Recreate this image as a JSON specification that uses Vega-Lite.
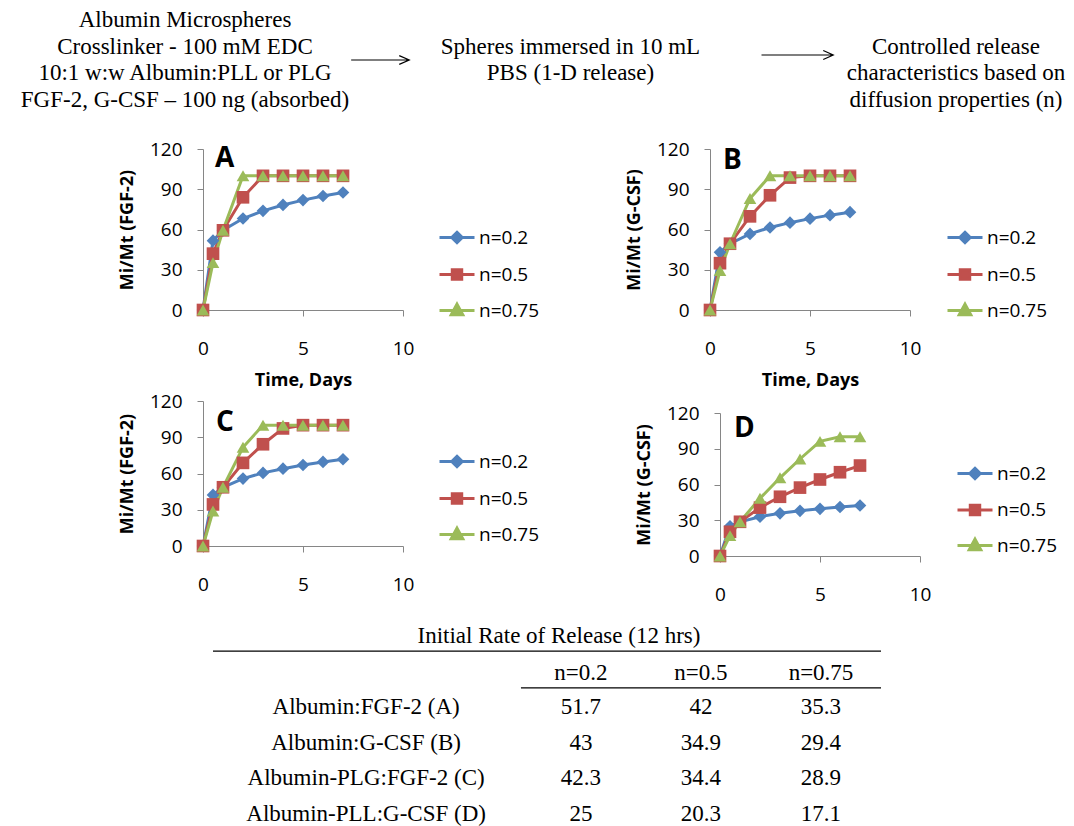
{
  "$schema": "https://vega.github.io/schema/vega-lite/v6.json",
  "padding": 0,
  "background": "white",
  "spacing": 0,
  "datasets": {
    "release": [
      {"panel":"A","series":"n=0.2","day":0,"value":0},{"panel":"A","series":"n=0.2","day":0.5,"value":51.7},{"panel":"A","series":"n=0.2","day":1,"value":59.4},{"panel":"A","series":"n=0.2","day":2,"value":68.2},{"panel":"A","series":"n=0.2","day":3,"value":73.9},{"panel":"A","series":"n=0.2","day":4,"value":78.3},{"panel":"A","series":"n=0.2","day":5,"value":81.9},{"panel":"A","series":"n=0.2","day":6,"value":85.0},{"panel":"A","series":"n=0.2","day":7,"value":87.6},
      {"panel":"A","series":"n=0.5","day":0,"value":0},{"panel":"A","series":"n=0.5","day":0.5,"value":42},{"panel":"A","series":"n=0.5","day":1,"value":59.4},{"panel":"A","series":"n=0.5","day":2,"value":84},{"panel":"A","series":"n=0.5","day":3,"value":100},{"panel":"A","series":"n=0.5","day":4,"value":100},{"panel":"A","series":"n=0.5","day":5,"value":100},{"panel":"A","series":"n=0.5","day":6,"value":100},{"panel":"A","series":"n=0.5","day":7,"value":100},
      {"panel":"A","series":"n=0.75","day":0,"value":0},{"panel":"A","series":"n=0.75","day":0.5,"value":35.3},{"panel":"A","series":"n=0.75","day":1,"value":59.4},{"panel":"A","series":"n=0.75","day":2,"value":100},{"panel":"A","series":"n=0.75","day":3,"value":100},{"panel":"A","series":"n=0.75","day":4,"value":100},{"panel":"A","series":"n=0.75","day":5,"value":100},{"panel":"A","series":"n=0.75","day":6,"value":100},{"panel":"A","series":"n=0.75","day":7,"value":100},
      {"panel":"B","series":"n=0.2","day":0,"value":0},{"panel":"B","series":"n=0.2","day":0.5,"value":43},{"panel":"B","series":"n=0.2","day":1,"value":49.4},{"panel":"B","series":"n=0.2","day":2,"value":56.7},{"panel":"B","series":"n=0.2","day":3,"value":61.5},{"panel":"B","series":"n=0.2","day":4,"value":65.1},{"panel":"B","series":"n=0.2","day":5,"value":68.1},{"panel":"B","series":"n=0.2","day":6,"value":70.7},{"panel":"B","series":"n=0.2","day":7,"value":72.9},
      {"panel":"B","series":"n=0.5","day":0,"value":0},{"panel":"B","series":"n=0.5","day":0.5,"value":34.9},{"panel":"B","series":"n=0.5","day":1,"value":49.4},{"panel":"B","series":"n=0.5","day":2,"value":69.8},{"panel":"B","series":"n=0.5","day":3,"value":85.5},{"panel":"B","series":"n=0.5","day":4,"value":98.7},{"panel":"B","series":"n=0.5","day":5,"value":100},{"panel":"B","series":"n=0.5","day":6,"value":100},{"panel":"B","series":"n=0.5","day":7,"value":100},
      {"panel":"B","series":"n=0.75","day":0,"value":0},{"panel":"B","series":"n=0.75","day":0.5,"value":29.4},{"panel":"B","series":"n=0.75","day":1,"value":49.4},{"panel":"B","series":"n=0.75","day":2,"value":83.1},{"panel":"B","series":"n=0.75","day":3,"value":100},{"panel":"B","series":"n=0.75","day":4,"value":100},{"panel":"B","series":"n=0.75","day":5,"value":100},{"panel":"B","series":"n=0.75","day":6,"value":100},{"panel":"B","series":"n=0.75","day":7,"value":100},
      {"panel":"C","series":"n=0.2","day":0,"value":0},{"panel":"C","series":"n=0.2","day":0.5,"value":42.3},{"panel":"C","series":"n=0.2","day":1,"value":48.6},{"panel":"C","series":"n=0.2","day":2,"value":55.8},{"panel":"C","series":"n=0.2","day":3,"value":60.5},{"panel":"C","series":"n=0.2","day":4,"value":64.0},{"panel":"C","series":"n=0.2","day":5,"value":67.0},{"panel":"C","series":"n=0.2","day":6,"value":69.6},{"panel":"C","series":"n=0.2","day":7,"value":71.8},
      {"panel":"C","series":"n=0.5","day":0,"value":0},{"panel":"C","series":"n=0.5","day":0.5,"value":34.4},{"panel":"C","series":"n=0.5","day":1,"value":48.6},{"panel":"C","series":"n=0.5","day":2,"value":68.8},{"panel":"C","series":"n=0.5","day":3,"value":84.2},{"panel":"C","series":"n=0.5","day":4,"value":97.3},{"panel":"C","series":"n=0.5","day":5,"value":100},{"panel":"C","series":"n=0.5","day":6,"value":100},{"panel":"C","series":"n=0.5","day":7,"value":100},
      {"panel":"C","series":"n=0.75","day":0,"value":0},{"panel":"C","series":"n=0.75","day":0.5,"value":28.9},{"panel":"C","series":"n=0.75","day":1,"value":48.6},{"panel":"C","series":"n=0.75","day":2,"value":81.7},{"panel":"C","series":"n=0.75","day":3,"value":100},{"panel":"C","series":"n=0.75","day":4,"value":100},{"panel":"C","series":"n=0.75","day":5,"value":100},{"panel":"C","series":"n=0.75","day":6,"value":100},{"panel":"C","series":"n=0.75","day":7,"value":100},
      {"panel":"D","series":"n=0.2","day":0,"value":0},{"panel":"D","series":"n=0.2","day":0.5,"value":25},{"panel":"D","series":"n=0.2","day":1,"value":28.7},{"panel":"D","series":"n=0.2","day":2,"value":33.0},{"panel":"D","series":"n=0.2","day":3,"value":35.8},{"panel":"D","series":"n=0.2","day":4,"value":37.9},{"panel":"D","series":"n=0.2","day":5,"value":39.6},{"panel":"D","series":"n=0.2","day":6,"value":41.1},{"panel":"D","series":"n=0.2","day":7,"value":42.4},
      {"panel":"D","series":"n=0.5","day":0,"value":0},{"panel":"D","series":"n=0.5","day":0.5,"value":20.3},{"panel":"D","series":"n=0.5","day":1,"value":28.7},{"panel":"D","series":"n=0.5","day":2,"value":40.6},{"panel":"D","series":"n=0.5","day":3,"value":49.7},{"panel":"D","series":"n=0.5","day":4,"value":57.4},{"panel":"D","series":"n=0.5","day":5,"value":64.2},{"panel":"D","series":"n=0.5","day":6,"value":70.3},{"panel":"D","series":"n=0.5","day":7,"value":75.9},
      {"panel":"D","series":"n=0.75","day":0,"value":0},{"panel":"D","series":"n=0.75","day":0.5,"value":17.1},{"panel":"D","series":"n=0.75","day":1,"value":28.8},{"panel":"D","series":"n=0.75","day":2,"value":48.4},{"panel":"D","series":"n=0.75","day":3,"value":65.6},{"panel":"D","series":"n=0.75","day":4,"value":81.4},{"panel":"D","series":"n=0.75","day":5,"value":96.2},{"panel":"D","series":"n=0.75","day":6,"value":100},{"panel":"D","series":"n=0.75","day":7,"value":100}
    ],
    "header": [
      {"col":"b1","line":1,"text":"Albumin Microspheres"},
      {"col":"b1","line":2,"text":"Crosslinker - 100 mM EDC"},
      {"col":"b1","line":3,"text":"10:1 w:w Albumin:PLL or PLG"},
      {"col":"b1","line":4,"text":"FGF-2, G-CSF – 100 ng (absorbed)"},
      {"col":"b2","line":2,"text":"Spheres immersed in 10 mL"},
      {"col":"b2","line":3,"text":"PBS (1-D release)"},
      {"col":"b3","line":2,"text":"Controlled release"},
      {"col":"b3","line":3,"text":"characteristics based on"},
      {"col":"b3","line":4,"text":"diffusion properties (n)"},
      {"col":"a1","line":2,"text":""},
      {"col":"a2","line":2,"text":""}
    ],
    "rates": [
      {"row":"A","sample":"Albumin:FGF-2 (A)","n":"n=0.2","rate":51.7},{"row":"A","sample":"Albumin:FGF-2 (A)","n":"n=0.5","rate":42},{"row":"A","sample":"Albumin:FGF-2 (A)","n":"n=0.75","rate":35.3},
      {"row":"B","sample":"Albumin:G-CSF (B)","n":"n=0.2","rate":43},{"row":"B","sample":"Albumin:G-CSF (B)","n":"n=0.5","rate":34.9},{"row":"B","sample":"Albumin:G-CSF (B)","n":"n=0.75","rate":29.4},
      {"row":"C","sample":"Albumin-PLG:FGF-2 (C)","n":"n=0.2","rate":42.3},{"row":"C","sample":"Albumin-PLG:FGF-2 (C)","n":"n=0.5","rate":34.4},{"row":"C","sample":"Albumin-PLG:FGF-2 (C)","n":"n=0.75","rate":28.9},
      {"row":"D","sample":"Albumin-PLL:G-CSF (D)","n":"n=0.2","rate":25},{"row":"D","sample":"Albumin-PLL:G-CSF (D)","n":"n=0.5","rate":20.3},{"row":"D","sample":"Albumin-PLL:G-CSF (D)","n":"n=0.75","rate":17.1}
    ],
    "samples": [
      {"row":"A","sample":"Albumin:FGF-2 (A)"},{"row":"B","sample":"Albumin:G-CSF (B)"},{"row":"C","sample":"Albumin-PLG:FGF-2 (C)"},{"row":"D","sample":"Albumin-PLL:G-CSF (D)"}
    ],
    "columns": [{"n":"n=0.2"},{"n":"n=0.5"},{"n":"n=0.75"}],
    "tabletitle": [{"title":"Initial Rate of Release (12 hrs)"}]
  },
  "vconcat": [
    {
      "width": 1074, "height": 139.2,
      "data": {"name": "header"},
      "encoding": {
        "x": {"field": "col", "type": "nominal", "scale": {"type": "point", "domain": ["b1","a1","b2","a2","b3"], "range": [185, 956], "padding": 0}, "axis": null},
        "y": {"field": "line", "type": "ordinal", "scale": {"type": "point", "domain": [1,2,3,4], "range": [20, 99.5], "padding": 0}, "axis": null}
      },
      "layer": [
        {"transform": [{"filter": "datum.text !== ''"}], "mark": {"type": "text", "font": "Liberation Serif", "fontSize": 23, "color": "#000", "align": "center", "baseline": "middle"}, "encoding": {"text": {"field": "text"}}},
        {"transform": [{"filter": "datum.col === 'a1'"}], "mark": {"type": "point", "filled": false, "color": "#000", "opacity": 1, "strokeWidth": 1.2, "size": 4900, "shape": "M-0.76,0.386H0.9M0.614,0.26L0.9,0.386L0.614,0.51"}},
        {"transform": [{"filter": "datum.col === 'a2'"}], "mark": {"type": "point", "filled": false, "color": "#000", "opacity": 1, "strokeWidth": 1.2, "size": 4900, "shape": "M-0.05,0.243H2M1.714,0.114L2,0.243L1.714,0.371"}}
      ]
    },
    {
      "hconcat": [
        {"width": 33, "height": 242.2, "data": {"values": []}, "mark": "point"},
        {
          "width": 200, "height": 161,
          "title": {"text": "A", "anchor": "start", "frame": "group", "dx": 12, "offset": -33.4, "fontSize": 28, "fontWeight": "bold", "font": "Open Sans", "color": "#000"},
          "data": {"name": "release"},
          "transform": [{"filter": "datum.panel === 'A'"}],
          "encoding": {
            "x": {"field": "day", "type": "quantitative", "scale": {"domain": [0, 10], "nice": false}, "axis": {"values": [0, 5, 10], "title": "Time, Days"}},
            "y": {"field": "value", "type": "quantitative", "scale": {"domain": [0, 120], "nice": false}, "axis": {"values": [0, 30, 60, 90, 120], "title": "Mi/Mt (FGF-2)"}},
            "color": {"field": "series", "type": "nominal", "scale": {"domain": ["n=0.2","n=0.5","n=0.75"], "range": ["#4F81BD","#C0504D","#9BBB59"]},
              "legend": {"title": null, "orient": "none", "legendX": 235, "legendY": 69.5, "symbolSize": 1225, "labelOffset": 3, "rowPadding": 6, "padding": 0,
                "encode": {"symbols": {"update": {
                  "shape": {"signal": "datum.value === 'n=0.2' ? 'M-1,0H1M0,-0.3L0.3,0L0,0.3L-0.3,0Z' : datum.value === 'n=0.5' ? 'M-1,0H1M-0.27,-0.27H0.27V0.27H-0.27Z' : 'M-1,0H1M0,-0.36L0.33,0.24H-0.33Z'"},
                  "fill": {"signal": "datum.value === 'n=0.2' ? '#4F81BD' : datum.value === 'n=0.5' ? '#C0504D' : '#9BBB59'"},
                  "stroke": {"signal": "datum.value === 'n=0.2' ? '#4F81BD' : datum.value === 'n=0.5' ? '#C0504D' : '#9BBB59'"},
                  "strokeWidth": {"value": 3}, "opacity": {"value": 1}}}}}}
          },
          "layer": [
            {"mark": {"type": "line", "strokeWidth": 3}},
            {"mark": {"type": "point", "filled": true, "opacity": 1, "size": 160}, "encoding": {"shape": {"field": "series", "type": "nominal", "scale": {"domain": ["n=0.2","n=0.5","n=0.75"], "range": ["diamond","square","triangle-up"]}, "legend": null}}}
          ]
        },
        {
          "width": 200, "height": 161,
          "title": {"text": "B", "anchor": "start", "frame": "group", "dx": 13, "offset": -35.1, "fontSize": 28, "fontWeight": "bold", "font": "Open Sans", "color": "#000"},
          "data": {"name": "release"},
          "transform": [{"filter": "datum.panel === 'B'"}],
          "encoding": {
            "x": {"field": "day", "type": "quantitative", "scale": {"domain": [0, 10], "nice": false}, "axis": {"values": [0, 5, 10], "title": "Time, Days"}},
            "y": {"field": "value", "type": "quantitative", "scale": {"domain": [0, 120], "nice": false}, "axis": {"values": [0, 30, 60, 90, 120], "title": "Mi/Mt (G-CSF)"}},
            "color": {"field": "series", "type": "nominal", "scale": {"domain": ["n=0.2","n=0.5","n=0.75"], "range": ["#4F81BD","#C0504D","#9BBB59"]},
              "legend": {"title": null, "orient": "none", "legendX": 236, "legendY": 69.5, "symbolSize": 1225, "labelOffset": 3, "rowPadding": 6, "padding": 0,
                "encode": {"symbols": {"update": {
                  "shape": {"signal": "datum.value === 'n=0.2' ? 'M-1,0H1M0,-0.3L0.3,0L0,0.3L-0.3,0Z' : datum.value === 'n=0.5' ? 'M-1,0H1M-0.27,-0.27H0.27V0.27H-0.27Z' : 'M-1,0H1M0,-0.36L0.33,0.24H-0.33Z'"},
                  "fill": {"signal": "datum.value === 'n=0.2' ? '#4F81BD' : datum.value === 'n=0.5' ? '#C0504D' : '#9BBB59'"},
                  "stroke": {"signal": "datum.value === 'n=0.2' ? '#4F81BD' : datum.value === 'n=0.5' ? '#C0504D' : '#9BBB59'"},
                  "strokeWidth": {"value": 3}, "opacity": {"value": 1}}}}}}
          },
          "layer": [
            {"mark": {"type": "line", "strokeWidth": 3}},
            {"mark": {"type": "point", "filled": true, "opacity": 1, "size": 160}, "encoding": {"shape": {"field": "series", "type": "nominal", "scale": {"domain": ["n=0.2","n=0.5","n=0.75"], "range": ["diamond","square","triangle-up"]}, "legend": null}}}
          ]
        }
      ],
      "spacing": 85, "align": "each",
      "resolve": {"legend": {"color": "independent"}}
    },
    {
      "hconcat": [
        {"width": 23, "height": 216.2, "data": {"values": []}, "mark": "point"},
        {
          "width": 200, "height": 145,
          "title": {"text": "C", "anchor": "start", "frame": "group", "dx": 13, "offset": -45.4, "fontSize": 28, "fontWeight": "bold", "font": "Open Sans", "color": "#000"},
          "data": {"name": "release"},
          "transform": [{"filter": "datum.panel === 'C'"}],
          "encoding": {
            "x": {"field": "day", "type": "quantitative", "scale": {"domain": [0, 10], "nice": false}, "axis": {"values": [0, 5, 10], "title": null}},
            "y": {"field": "value", "type": "quantitative", "scale": {"domain": [0, 120], "nice": false}, "axis": {"values": [0, 30, 60, 90, 120], "title": "Mi/Mt (FGF-2)"}},
            "color": {"field": "series", "type": "nominal", "scale": {"domain": ["n=0.2","n=0.5","n=0.75"], "range": ["#4F81BD","#C0504D","#9BBB59"]},
              "legend": {"title": null, "orient": "none", "legendX": 235, "legendY": 41.5, "symbolSize": 1225, "labelOffset": 3, "rowPadding": 6, "padding": 0,
                "encode": {"symbols": {"update": {
                  "shape": {"signal": "datum.value === 'n=0.2' ? 'M-1,0H1M0,-0.3L0.3,0L0,0.3L-0.3,0Z' : datum.value === 'n=0.5' ? 'M-1,0H1M-0.27,-0.27H0.27V0.27H-0.27Z' : 'M-1,0H1M0,-0.36L0.33,0.24H-0.33Z'"},
                  "fill": {"signal": "datum.value === 'n=0.2' ? '#4F81BD' : datum.value === 'n=0.5' ? '#C0504D' : '#9BBB59'"},
                  "stroke": {"signal": "datum.value === 'n=0.2' ? '#4F81BD' : datum.value === 'n=0.5' ? '#C0504D' : '#9BBB59'"},
                  "strokeWidth": {"value": 3}, "opacity": {"value": 1}}}}}}
          },
          "layer": [
            {"mark": {"type": "line", "strokeWidth": 3}},
            {"mark": {"type": "point", "filled": true, "opacity": 1, "size": 160}, "encoding": {"shape": {"field": "series", "type": "nominal", "scale": {"domain": ["n=0.2","n=0.5","n=0.75"], "range": ["diamond","square","triangle-up"]}, "legend": null}}}
          ]
        },
        {
          "width": 200, "height": 155,
          "title": {"text": "D", "anchor": "start", "frame": "group", "dx": 14, "offset": -41.6, "fontSize": 28, "fontWeight": "bold", "font": "Open Sans", "color": "#000"},
          "data": {"name": "release"},
          "transform": [{"filter": "datum.panel === 'D'"}],
          "encoding": {
            "x": {"field": "day", "type": "quantitative", "scale": {"domain": [0, 10], "nice": false}, "axis": {"values": [0, 5, 10], "title": null}},
            "y": {"field": "value", "type": "quantitative", "scale": {"domain": [0, 120], "nice": false, "range": [155, 12]}, "axis": {"values": [0, 30, 60, 90, 120], "title": "Mi/Mt (G-CSF)"}},
            "color": {"field": "series", "type": "nominal", "scale": {"domain": ["n=0.2","n=0.5","n=0.75"], "range": ["#4F81BD","#C0504D","#9BBB59"]},
              "legend": {"title": null, "orient": "none", "legendX": 236, "legendY": 53.5, "symbolSize": 1225, "labelOffset": 3, "rowPadding": 5.5, "padding": 0,
                "encode": {"symbols": {"update": {
                  "shape": {"signal": "datum.value === 'n=0.2' ? 'M-1,0H1M0,-0.3L0.3,0L0,0.3L-0.3,0Z' : datum.value === 'n=0.5' ? 'M-1,0H1M-0.27,-0.27H0.27V0.27H-0.27Z' : 'M-1,0H1M0,-0.36L0.33,0.24H-0.33Z'"},
                  "fill": {"signal": "datum.value === 'n=0.2' ? '#4F81BD' : datum.value === 'n=0.5' ? '#C0504D' : '#9BBB59'"},
                  "stroke": {"signal": "datum.value === 'n=0.2' ? '#4F81BD' : datum.value === 'n=0.5' ? '#C0504D' : '#9BBB59'"},
                  "strokeWidth": {"value": 3}, "opacity": {"value": 1}}}}}}
          },
          "layer": [
            {"mark": {"type": "line", "strokeWidth": 3}},
            {"mark": {"type": "point", "filled": true, "opacity": 1, "size": 160}, "encoding": {"shape": {"field": "series", "type": "nominal", "scale": {"domain": ["n=0.2","n=0.5","n=0.75"], "range": ["diamond","square","triangle-up"]}, "legend": null}}}
          ]
        }
      ],
      "spacing": 95, "align": "each",
      "resolve": {"legend": {"color": "independent"}}
    },
    {
      "hconcat": [
        {"width": 212, "height": 1, "data": {"values": []}, "mark": "point"},
        {
          "width": 668, "height": 208,
          "encoding": {
            "y": {"field": "row", "type": "nominal", "scale": {"type": "band", "domain": ["title","header","A","B","C","D"], "range": [0, 213.6], "paddingInner": 0, "paddingOuter": 0}, "axis": null},
            "x": {"field": "n", "type": "nominal", "scale": {"type": "band", "domain": ["label","n=0.2","n=0.5","n=0.75"], "paddingInner": 0, "paddingOuter": 0.783, "align": 1}, "axis": null}
          },
          "layer": [
            {"data": {"name": "tabletitle"}, "mark": {"type": "text", "font": "Liberation Serif", "fontSize": 23, "color": "#000", "dx": 12}, "encoding": {"y": {"datum": "title", "type": "nominal"}, "x": null, "text": {"field": "title"}}},
            {"data": {"name": "columns"}, "mark": {"type": "text", "font": "Liberation Serif", "fontSize": 23, "color": "#000"}, "encoding": {"y": {"datum": "header", "type": "nominal", "bandPosition": 0.55}, "text": {"field": "n"}}},
            {"data": {"name": "rates"}, "mark": {"type": "text", "font": "Liberation Serif", "fontSize": 23, "color": "#000"}, "encoding": {"text": {"field": "rate", "type": "nominal"}}},
            {"data": {"name": "samples"}, "mark": {"type": "text", "font": "Liberation Serif", "fontSize": 23, "color": "#000"}, "encoding": {"x": {"datum": "label", "type": "nominal", "bandPosition": -0.29}, "text": {"field": "sample"}}},
            {"data": {"name": "tabletitle"}, "mark": {"type": "rule", "color": "#000", "strokeWidth": 1.2}, "encoding": {"x": null, "y": {"datum": "header", "type": "nominal", "bandPosition": -0.07}}},
            {"data": {"name": "tabletitle"}, "mark": {"type": "rule", "color": "#000", "strokeWidth": 1.2}, "encoding": {"y": {"datum": "A", "type": "nominal", "bandPosition": -0.04}, "x": {"datum": "n=0.2", "type": "nominal", "bandPosition": 0}, "x2": {"datum": "n=0.75", "bandPosition": 1}}}
          ]
        }
      ],
      "spacing": 0, "align": "each"
    }
  ],
  "align": "each",
  "resolve": {"legend": {"color": "independent"}},
  "config": {
    "view": {"stroke": null},
    "axis": {"domainColor": "#868686", "tickColor": "#868686", "domainWidth": 1, "tickWidth": 1, "tickSize": 6, "labelColor": "#000", "labelFont": "Open Sans", "labelFontSize": 19, "titleFont": "Open Sans", "titleFontSize": 18, "titleFontWeight": "bold", "titleColor": "#000", "grid": false, "labelFlush": false, "labelOverlap": false, "labelBound": false},
    "axisX": {"labelPadding": 23, "titlePadding": 13},
    "axisY": {"labelPadding": 15, "titlePadding": 13},
    "legend": {"labelFont": "Open Sans", "labelFontSize": 19, "labelColor": "#000"}
  }
}
